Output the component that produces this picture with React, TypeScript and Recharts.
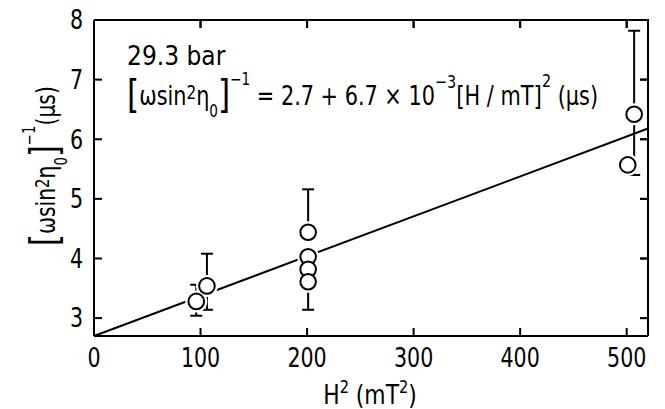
import React from 'react';
import { ComposedChart, Line, Scatter, XAxis, YAxis, ErrorBar } from 'recharts';

const xValues = [96, 106, 201, 201, 201, 201, 501, 507];
const yValues = [3.28, 3.54, 4.44, 4.03, 3.82, 3.61, 5.57, 6.42];
const errLow = [0.24, 0.4, 0, 0, 0, 0.47, 0, 1.02];
const errHigh = [0.28, 0.54, 0.72, 0, 0, 0, 0, 1.4];
const fitX = [0, 520];
const fitY = [2.7, 6.18];
const xDomain = [0, 520];
const yDomain = [2.7, 8];
const xTicks = [0, 100, 200, 300, 400, 500];
const yTicks = [3, 4, 5, 6, 7, 8];
const xTopTicks = [100, 200, 300, 400, 500];
const yRightTicks = [3, 4, 5, 6, 7];

const points = xValues.map((x, i) => ({ x, y: yValues[i], err: [errLow[i], errHigh[i]] }));
const fit = fitX.map((x, i) => ({ x, y: fitY[i] }));
const frame = [
  { x: xDomain[0], y: yDomain[1] },
  { x: xDomain[1], y: yDomain[1] },
  { x: xDomain[1], y: yDomain[0] },
];
const topTickPts = xTopTicks.map((x) => ({ x, y: yDomain[1] }));
const rightTickPts = yRightTicks.map((y) => ({ x: xDomain[1], y }));

const W = 665;
const H = 409;
const MARGIN = { top: 20, right: 17, bottom: 33, left: 34 };
const Y_AXIS_W = 60;
const X_AXIS_H = 40;
const PL = MARGIN.left + Y_AXIS_W;
const PR = W - MARGIN.right;
const PT = MARGIN.top;
const PB = H - MARGIN.bottom - X_AXIS_H;
const sx = (v: number) => PL + ((v - xDomain[0]) / (xDomain[1] - xDomain[0])) * (PR - PL);
const sy = (v: number) => PB - ((v - yDomain[0]) / (yDomain[1] - yDomain[0])) * (PB - PT);

const F = "'DejaVu Sans Condensed', 'DejaVu Sans', sans-serif";
const SX = 0.88;

const Halo = (p: any) => <circle cx={p.cx} cy={p.cy} r={11} fill="#fff" />;
const Ring = (p: any) => (
  <circle cx={p.cx} cy={p.cy} r={7.8} fill="#fff" stroke="#000" strokeWidth={2} />
);
const TopTick = (p: any) => (
  <line x1={p.cx} x2={p.cx} y1={p.cy} y2={p.cy + 8} stroke="#000" strokeWidth={2} />
);
const RightTick = (p: any) => (
  <line x1={p.cx - 8} x2={p.cx} y1={p.cy} y2={p.cy} stroke="#000" strokeWidth={2} />
);

const XTick = (p: any) => (
  <text
    transform={`translate(${p.x},${p.y}) scale(${SX},1)`}
    textAnchor="middle"
    dy="0.71em"
    fontFamily={F}
    fontSize={26}
    fill="#000"
  >
    {p.payload.value}
  </text>
);

const YTick = (p: any) => (
  <text
    transform={`translate(${p.x},${p.y}) scale(${SX},1)`}
    textAnchor="end"
    dy="0.36em"
    fontFamily={F}
    fontSize={26}
    fill="#000"
  >
    {p.payload.value}
  </text>
);

const Formula = () => (
  <text transform={`translate(127,105) scale(0.89,1)`} fontFamily={F} fontSize={26} fill="#000">
    <tspan fontSize={39} dy={3}>[</tspan>
    <tspan dy={-3}>ωsin</tspan>
    <tspan fontSize={19} dy={-6}>2</tspan>
    <tspan dy={6}>η</tspan>
    <tspan fontSize={17} dy={12}>0</tspan>
    <tspan fontSize={39} dy={-9}>]</tspan>
    <tspan fontSize={17} dy={-23}>−1</tspan>
    <tspan dy={20}> = 2.7 + 6.7 × 10</tspan>
    <tspan fontSize={18} dy={-17}>−3</tspan>
    <tspan fontSize={27} dy={17}>[</tspan>
    <tspan>H / mT</tspan>
    <tspan fontSize={27}>]</tspan>
    <tspan fontSize={18} dy={-18}>2</tspan>
    <tspan dy={18}> (μs)</tspan>
  </text>
);

const YTitle = () => (
  <text
    transform="translate(55,246) rotate(-90) scale(0.87,1)"
    textAnchor="start"
    fontFamily={F}
    fontSize={26}
    fill="#000"
  >
    <tspan fontSize={39} dy={3}>[</tspan>
    <tspan dy={-3}>ωsin</tspan>
    <tspan fontSize={19} dy={-6}>2</tspan>
    <tspan dy={6}>η</tspan>
    <tspan fontSize={17} dy={12}>0</tspan>
    <tspan fontSize={39} dy={-9}>]</tspan>
    <tspan fontSize={17} dy={-23}>−1</tspan>
    <tspan dy={20}>(μs)</tspan>
  </text>
);

const XTitle = () => (
  <text
    transform="translate(370,404) scale(0.9,1)"
    textAnchor="middle"
    fontFamily={F}
    fontSize={27}
    fill="#000"
  >
    <tspan>H</tspan>
    <tspan fontSize={18} dy={-11}>2</tspan>
    <tspan dy={11}> (mT</tspan>
    <tspan fontSize={18} dy={-11}>2</tspan>
    <tspan dy={11}>)</tspan>
  </text>
);

const axisStroke = { stroke: '#000', strokeWidth: 2 };

export default function App() {
  return (
    <div style={{ position: 'absolute', left: 0, top: 0, width: W, height: H, background: '#fff' }}>
      <ComposedChart width={W} height={H} margin={MARGIN}>
        <XAxis
          dataKey="x"
          type="number"
          domain={xDomain}
          ticks={xTicks}
          orientation="bottom"
          height={X_AXIS_H}
          tickSize={-8}
          tickMargin={21}
          tick={<XTick />}
          axisLine={axisStroke}
          tickLine={axisStroke}
        />
        <YAxis
          dataKey="y"
          type="number"
          domain={yDomain}
          ticks={yTicks}
          orientation="left"
          width={Y_AXIS_W}
          tickSize={-8}
          tickMargin={19}
          tick={<YTick />}
          axisLine={axisStroke}
          tickLine={axisStroke}
        />
        <Line
          data={frame}
          dataKey="y"
          stroke="#000"
          strokeWidth={2}
          dot={false}
          activeDot={false}
          isAnimationActive={false}
        />
        <Scatter data={topTickPts} dataKey="y" shape={TopTick} isAnimationActive={false} />
        <Scatter data={rightTickPts} dataKey="y" shape={RightTick} isAnimationActive={false} />
        <Line
          data={fit}
          dataKey="y"
          stroke="#000"
          strokeWidth={2}
          dot={false}
          activeDot={false}
          isAnimationActive={false}
        />
        <Scatter data={points} dataKey="y" shape={Halo} isAnimationActive={false} />
        <Scatter data={points} dataKey="y" shape={Ring} isAnimationActive={false}>
          <ErrorBar dataKey="err" direction="y" width={6} stroke="#000" strokeWidth={2} />
        </Scatter>
      </ComposedChart>
      <svg
        width={W}
        height={H}
        style={{ position: 'absolute', left: 0, top: 0, pointerEvents: 'none' }}
      >
        <polyline
          points={frame.map((p) => `${sx(p.x)},${sy(p.y)}`).join(' ')}
          fill="none"
          stroke="#000"
          strokeWidth={2}
        />
        {xTopTicks.map((t) => (
          <line key={'t' + t} x1={sx(t)} x2={sx(t)} y1={sy(yDomain[1])} y2={sy(yDomain[1]) + 8} stroke="#000" strokeWidth={2} />
        ))}
        {yRightTicks.map((t) => (
          <line key={'r' + t} x1={sx(xDomain[1]) - 8} x2={sx(xDomain[1])} y1={sy(t)} y2={sy(t)} stroke="#000" strokeWidth={2} />
        ))}
        <text x={127} y={65} fontFamily={F} fontSize={26} fill="#000">
          29.3 bar
        </text>
        <Formula />
        <YTitle />
        <XTitle />
      </svg>
    </div>
  );
}
